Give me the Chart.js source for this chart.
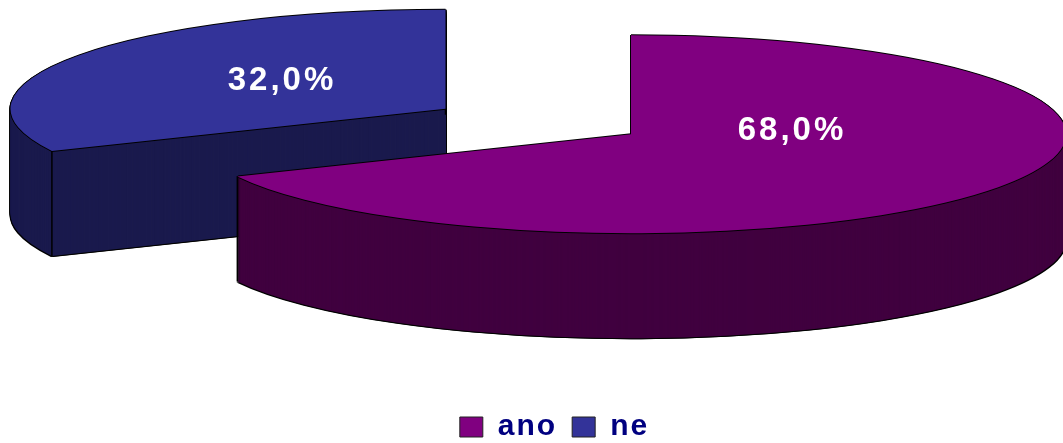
<!DOCTYPE html>
<html>
<head>
<meta charset="utf-8">
<style>
html,body{margin:0;padding:0;background:#fff;overflow:hidden}
canvas{display:block}
</style>
<script src="https://cdn.jsdelivr.net/npm/chart.js@4"></script>
</head>
<body>
<canvas id="chart" width="1063" height="443"></canvas>
<script>
const categories=["ano","ne"]
const percents=[68.0,32.0]
const topColors=["#800080","#333399"]
const sideColors=["#40003f","#1a1a4d"]

// flattened pie: the arcs are computed round (cx,cy) and squashed at draw time
const cx=538.5
const cy=121.5
const radius=435
const squash=0.2276
const depth=105
const shift=[[92.5,12.75],[-93,-12.75]]
const labelPos=[[792,131],[282,81]]
const legendShift=[23,9]

function drawCopy(ctx,arc,color,dx,dy){
let copy=Object.create(arc)
copy.options={...arc.options,backgroundColor:color}
ctx.save()
ctx.translate(dx,dy)
flatten(ctx)
copy.draw(ctx)
ctx.restore()
}

function flatten(ctx){
ctx.translate(cx,cy)
ctx.scale(1,squash)
ctx.translate(-cx,-cy)
}

const pie3d={
id:"pie3d",
beforeLayout(chart){
chart.ctx.letterSpacing="2px"
},
afterLayout(chart){
// the legend keeps its place, the round pie gets its own big square
chart.chartArea={left:cx-radius,right:cx+radius,top:cy-radius,bottom:cy+radius,width:radius*2,height:radius*2}
chart.legend.left+=legendShift[0]
chart.legend.right+=legendShift[0]
chart.legend.top+=legendShift[1]
chart.legend.bottom+=legendShift[1]
},
afterDatasetsUpdate(chart){
chart.getDatasetMeta(0).data.forEach((arc,i)=>{
arc.x+=shift[i][0]
arc.y+=shift[i][1]/squash
})
},
beforeDraw(chart){
chart.ctx.letterSpacing="2px"
},
beforeDatasetsDraw(chart){
let ctx=chart.ctx
let arcs=chart.getDatasetMeta(0).data
for(let i=arcs.length-1;i>=0;i--){
let arc=arcs[i]
// outline of the walls
for(let k=depth+1;k>=0;k--){
drawCopy(ctx,arc,"#000",-1,k)
drawCopy(ctx,arc,"#000",1,k)
}
for(let k=depth;k>=1;k--){
drawCopy(ctx,arc,sideColors[i],0,k)
}
// corner edges
ctx.save()
ctx.strokeStyle="#000"
ctx.lineWidth=1.5
;[arc.startAngle,arc.endAngle].forEach(a=>{
let x=arc.x+Math.cos(a)*radius
let y=cy+(arc.y-cy+Math.sin(a)*radius)*squash
ctx.beginPath()
ctx.moveTo(x,y)
ctx.lineTo(x,y+depth)
ctx.stroke()
})
ctx.restore()
// outline of the top face
drawCopy(ctx,arc,"#000",0,-1)
drawCopy(ctx,arc,"#000",0,1)
drawCopy(ctx,arc,"#000",-1,0)
drawCopy(ctx,arc,"#000",1,0)
}
ctx.save()
flatten(ctx)
},
afterDatasetsDraw(chart){
let ctx=chart.ctx
ctx.restore()
ctx.save()
ctx.fillStyle="#fff"
ctx.font="bold 33px 'Liberation Sans'"
ctx.letterSpacing="3px"
ctx.textAlign="center"
ctx.textBaseline="middle"
percents.forEach((p,i)=>{
ctx.fillText(p.toFixed(1).replace(".",",")+"%",labelPos[i][0],labelPos[i][1])
})
ctx.restore()
}
}

new Chart(document.getElementById("chart"),{
type:"pie",
data:{
labels:categories,
datasets:[{data:percents,backgroundColor:topColors,borderWidth:0,clip:false}]
},
options:{
responsive:false,
animation:false,
events:[],
plugins:{
tooltip:{enabled:false},
legend:{
position:"bottom",
labels:{
boxWidth:23,
boxHeight:20,
padding:15,
color:"#000080",
font:{family:"'Liberation Sans'",size:30,weight:"bold"},
generateLabels(chart){
return Chart.overrides.pie.plugins.legend.labels.generateLabels(chart).map(l=>{
l.strokeStyle="#222"
l.lineWidth=1
return l
})
}
}
}
}
},
plugins:[pie3d]
})
</script>
</body>
</html>
